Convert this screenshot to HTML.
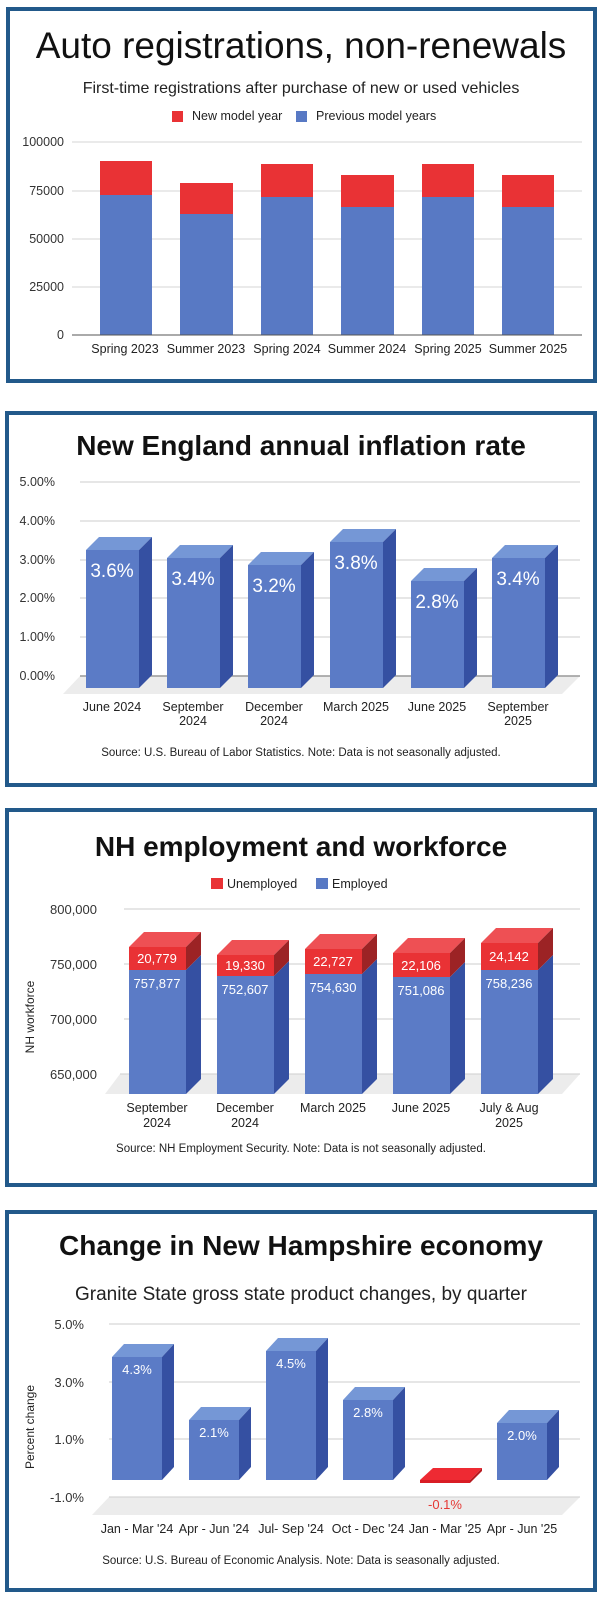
<!DOCTYPE html>
<html><head><meta charset="utf-8"><style>
html,body{margin:0;padding:0;background:#fff;}
svg{display:block;font-family:"Liberation Sans",Arial,sans-serif;}
</style></head><body>
<svg width="603" height="1599" viewBox="0 0 603 1599" xmlns="http://www.w3.org/2000/svg">
<rect width="603" height="1599" fill="#fff"/>
<g fill="none" stroke="#22598a" stroke-width="4">
<rect x="8" y="9" width="587" height="372"/>
<rect x="7" y="413" width="588" height="372"/>
<rect x="7" y="810" width="588" height="375"/>
<rect x="7" y="1212" width="588" height="378"/>
</g>

<!-- Panel 1 -->
<text x="301" y="58" font-size="37" text-anchor="middle" fill="#111">Auto registrations, non-renewals</text>
<text x="301" y="93" font-size="16" text-anchor="middle" fill="#222">First-time registrations after purchase of new or used vehicles</text>
<rect x="172" y="111" width="11" height="11" fill="#e93235"/>
<text x="192" y="120" font-size="12.5" fill="#222">New model year</text>
<rect x="296" y="111" width="11" height="11" fill="#5879c4"/>
<text x="316" y="120" font-size="12.5" fill="#222">Previous model years</text>
<g stroke="#d6d6d6" stroke-width="1">
<line x1="72" y1="142" x2="582" y2="142"/><line x1="72" y1="191" x2="582" y2="191"/>
<line x1="72" y1="239" x2="582" y2="239"/><line x1="72" y1="287" x2="582" y2="287"/>
</g>
<g font-size="12.5" fill="#333" text-anchor="end">
<text x="64" y="146">100000</text><text x="64" y="195">75000</text><text x="64" y="243">50000</text><text x="64" y="291">25000</text><text x="64" y="339">0</text>
</g>
<g fill="#e93235">
<rect x="100" y="161" width="52" height="34"/><rect x="180" y="183" width="53" height="31"/>
<rect x="261" y="164" width="52" height="33"/><rect x="341" y="175" width="53" height="32"/>
<rect x="422" y="164" width="52" height="33"/><rect x="502" y="175" width="52" height="32"/>
</g>
<g fill="#5879c4">
<rect x="100" y="195" width="52" height="140"/><rect x="180" y="214" width="53" height="121"/>
<rect x="261" y="197" width="52" height="138"/><rect x="341" y="207" width="53" height="128"/>
<rect x="422" y="197" width="52" height="138"/><rect x="502" y="207" width="52" height="128"/>
</g>
<line x1="72" y1="335" x2="582" y2="335" stroke="#555" stroke-width="1"/>
<g font-size="12.5" fill="#222" text-anchor="middle">
<text x="125" y="353">Spring 2023</text><text x="206" y="353">Summer 2023</text><text x="287" y="353">Spring 2024</text>
<text x="367" y="353">Summer 2024</text><text x="448" y="353">Spring 2025</text><text x="528" y="353">Summer 2025</text>
</g>

<!-- Panel 2 -->
<text x="301" y="455" font-size="28" font-weight="bold" text-anchor="middle" fill="#111">New England annual inflation rate</text>
<g stroke="#d6d6d6" stroke-width="1.2">
<line x1="80" y1="482" x2="580" y2="482"/><line x1="80" y1="521" x2="580" y2="521"/>
<line x1="80" y1="560" x2="580" y2="560"/><line x1="80" y1="598" x2="580" y2="598"/><line x1="80" y1="637" x2="580" y2="637"/>
</g>
<polygon points="80,676 580,676 562,694 63,694" fill="#ececec"/>
<line x1="80" y1="676" x2="580" y2="676" stroke="#999" stroke-width="1.5"/>
<g font-size="12.5" fill="#333" text-anchor="end">
<text x="55" y="486">5.00%</text><text x="55" y="525">4.00%</text><text x="55" y="564">3.00%</text>
<text x="55" y="602">2.00%</text><text x="55" y="641">1.00%</text><text x="55" y="680">0.00%</text>
</g>
<g>
<polygon points="86,550 99,537 152,537 139,550" fill="#7597d6"/><polygon points="139,550 152,537 152,675 139,688" fill="#3550a2"/><rect x="86" y="550" width="53" height="138" fill="#5b7bc6"/>
<polygon points="167,558 180,545 233,545 220,558" fill="#7597d6"/><polygon points="220,558 233,545 233,675 220,688" fill="#3550a2"/><rect x="167" y="558" width="53" height="130" fill="#5b7bc6"/>
<polygon points="248,565 261,552 314,552 301,565" fill="#7597d6"/><polygon points="301,565 314,552 314,675 301,688" fill="#3550a2"/><rect x="248" y="565" width="53" height="123" fill="#5b7bc6"/>
<polygon points="330,542 343,529 396,529 383,542" fill="#7597d6"/><polygon points="383,542 396,529 396,675 383,688" fill="#3550a2"/><rect x="330" y="542" width="53" height="146" fill="#5b7bc6"/>
<polygon points="411,581 424,568 477,568 464,581" fill="#7597d6"/><polygon points="464,581 477,568 477,675 464,688" fill="#3550a2"/><rect x="411" y="581" width="53" height="107" fill="#5b7bc6"/>
<polygon points="492,558 505,545 558,545 545,558" fill="#7597d6"/><polygon points="545,558 558,545 558,675 545,688" fill="#3550a2"/><rect x="492" y="558" width="53" height="130" fill="#5b7bc6"/>
</g>
<g font-size="19" fill="#fff" text-anchor="middle">
<text x="112" y="577">3.6%</text><text x="193" y="585">3.4%</text><text x="274" y="592">3.2%</text>
<text x="356" y="569">3.8%</text><text x="437" y="608">2.8%</text><text x="518" y="585">3.4%</text>
</g>
<g font-size="12.5" fill="#222" text-anchor="middle">
<text x="112" y="711">June 2024</text>
<text x="193" y="711">September</text><text x="193" y="725">2024</text>
<text x="274" y="711">December</text><text x="274" y="725">2024</text>
<text x="356" y="711">March 2025</text>
<text x="437" y="711">June 2025</text>
<text x="518" y="711">September</text><text x="518" y="725">2025</text>
<text x="301" y="756" font-size="11.5">Source: U.S. Bureau of Labor Statistics. Note: Data is not seasonally adjusted.</text>
</g>

<!-- Panel 3 -->
<text x="301" y="856" font-size="28" font-weight="bold" text-anchor="middle" fill="#111">NH employment and workforce</text>
<rect x="211" y="878" width="12" height="11" fill="#e93235"/>
<text x="227" y="888" font-size="12.5" fill="#222">Unemployed</text>
<rect x="316" y="878" width="12" height="11" fill="#5879c4"/>
<text x="332" y="888" font-size="12.5" fill="#222">Employed</text>
<g stroke="#d6d6d6" stroke-width="1.2">
<line x1="124" y1="909" x2="580" y2="909"/><line x1="124" y1="964" x2="580" y2="964"/><line x1="124" y1="1019" x2="580" y2="1019"/>
</g>
<polygon points="120,1074 580,1074 562,1094 105,1094" fill="#ececec"/>
<line x1="120" y1="1074" x2="580" y2="1074" stroke="#d6d6d6" stroke-width="1.2"/>
<g font-size="13" fill="#333" text-anchor="end">
<text x="97" y="914">800,000</text><text x="97" y="969">750,000</text><text x="97" y="1024">700,000</text><text x="97" y="1079">650,000</text>
</g>
<text transform="translate(34,1017) rotate(-90)" font-size="12" fill="#222" text-anchor="middle">NH workforce</text>
<g>
<rect x="129" y="970" width="57" height="124" fill="#5b7bc6"/><polygon points="186,970 201,955 201,1079 186,1094" fill="#3550a2"/>
<rect x="129" y="947" width="57" height="23" fill="#e93235"/><polygon points="129,947 144,932 201,932 186,947" fill="#ee5054"/><polygon points="186,947 201,932 201,955 186,970" fill="#9c2325"/>

<rect x="217" y="976" width="57" height="118" fill="#5b7bc6"/><polygon points="274,976 289,961 289,1079 274,1094" fill="#3550a2"/>
<rect x="217" y="955" width="57" height="21" fill="#e93235"/><polygon points="217,955 232,940 289,940 274,955" fill="#ee5054"/><polygon points="274,955 289,940 289,961 274,976" fill="#9c2325"/>

<rect x="305" y="974" width="57" height="120" fill="#5b7bc6"/><polygon points="362,974 377,959 377,1079 362,1094" fill="#3550a2"/>
<rect x="305" y="949" width="57" height="25" fill="#e93235"/><polygon points="305,949 320,934 377,934 362,949" fill="#ee5054"/><polygon points="362,949 377,934 377,959 362,974" fill="#9c2325"/>

<rect x="393" y="977" width="57" height="117" fill="#5b7bc6"/><polygon points="450,977 465,962 465,1079 450,1094" fill="#3550a2"/>
<rect x="393" y="953" width="57" height="24" fill="#e93235"/><polygon points="393,953 408,938 465,938 450,953" fill="#ee5054"/><polygon points="450,953 465,938 465,962 450,977" fill="#9c2325"/>

<rect x="481" y="970" width="57" height="124" fill="#5b7bc6"/><polygon points="538,970 553,955 553,1079 538,1094" fill="#3550a2"/>
<rect x="481" y="943" width="57" height="27" fill="#e93235"/><polygon points="481,943 496,928 553,928 538,943" fill="#ee5054"/><polygon points="538,943 553,928 553,955 538,970" fill="#9c2325"/>
</g>
<g font-size="13" fill="#fff" text-anchor="middle">
<text x="157" y="963">20,779</text><text x="157" y="988">757,877</text>
<text x="245" y="970">19,330</text><text x="245" y="994">752,607</text>
<text x="333" y="966">22,727</text><text x="333" y="992">754,630</text>
<text x="421" y="970">22,106</text><text x="421" y="995">751,086</text>
<text x="509" y="961">24,142</text><text x="509" y="988">758,236</text>
</g>
<g font-size="12.5" fill="#222" text-anchor="middle">
<text x="157" y="1112">September</text><text x="157" y="1127">2024</text>
<text x="245" y="1112">December</text><text x="245" y="1127">2024</text>
<text x="333" y="1112">March 2025</text>
<text x="421" y="1112">June 2025</text>
<text x="509" y="1112">July &amp; Aug</text><text x="509" y="1127">2025</text>
<text x="301" y="1152" font-size="11.5">Source: NH Employment Security. Note: Data is not seasonally adjusted.</text>
</g>

<!-- Panel 4 -->
<text x="301" y="1255" font-size="28" font-weight="bold" text-anchor="middle" fill="#111">Change in New Hampshire economy</text>
<text x="301" y="1300" font-size="19" text-anchor="middle" fill="#222">Granite State gross state product changes, by quarter</text>
<g stroke="#d6d6d6" stroke-width="1.2">
<line x1="109" y1="1324" x2="580" y2="1324"/><line x1="109" y1="1382" x2="580" y2="1382"/><line x1="109" y1="1439" x2="580" y2="1439"/>
</g>
<polygon points="109,1497 580,1497 562,1515 92,1515" fill="#ececec"/>
<line x1="109" y1="1497" x2="580" y2="1497" stroke="#d6d6d6" stroke-width="1.2"/>
<g font-size="13" fill="#333" text-anchor="end">
<text x="84" y="1329">5.0%</text><text x="84" y="1387">3.0%</text><text x="84" y="1444">1.0%</text><text x="84" y="1502">-1.0%</text>
</g>
<text transform="translate(34,1427) rotate(-90)" font-size="12" fill="#222" text-anchor="middle">Percent change</text>
<g>
<polygon points="112,1357 124,1344 174,1344 162,1357" fill="#7597d6"/><polygon points="162,1357 174,1344 174,1467 162,1480" fill="#3550a2"/><rect x="112" y="1357" width="50" height="123" fill="#5b7bc6"/>
<polygon points="189,1420 201,1407 251,1407 239,1420" fill="#7597d6"/><polygon points="239,1420 251,1407 251,1467 239,1480" fill="#3550a2"/><rect x="189" y="1420" width="50" height="60" fill="#5b7bc6"/>
<polygon points="266,1351 278,1338 328,1338 316,1351" fill="#7597d6"/><polygon points="316,1351 328,1338 328,1467 316,1480" fill="#3550a2"/><rect x="266" y="1351" width="50" height="129" fill="#5b7bc6"/>
<polygon points="343,1400 355,1387 405,1387 393,1400" fill="#7597d6"/><polygon points="393,1400 405,1387 405,1467 393,1480" fill="#3550a2"/><rect x="343" y="1400" width="50" height="80" fill="#5b7bc6"/>
<polygon points="420,1480 433,1468 482,1468 470,1480" fill="#ee2a33"/><polygon points="470,1480 482,1468 482,1471 470,1483" fill="#b81a20"/><rect x="420" y="1480" width="50" height="3" fill="#d91c24"/>
<polygon points="497,1423 509,1410 559,1410 547,1423" fill="#7597d6"/><polygon points="547,1423 559,1410 559,1467 547,1480" fill="#3550a2"/><rect x="497" y="1423" width="50" height="57" fill="#5b7bc6"/>
</g>
<g font-size="13" fill="#fff" text-anchor="middle">
<text x="137" y="1374">4.3%</text><text x="214" y="1437">2.1%</text><text x="291" y="1368">4.5%</text>
<text x="368" y="1417">2.8%</text><text x="522" y="1440">2.0%</text>
</g>
<text x="445" y="1509" font-size="13" fill="#e53935" text-anchor="middle">-0.1%</text>
<g font-size="12.5" fill="#222" text-anchor="middle">
<text x="137" y="1533">Jan - Mar '24</text><text x="214" y="1533">Apr - Jun '24</text><text x="291" y="1533">Jul- Sep '24</text>
<text x="368" y="1533">Oct - Dec '24</text><text x="445" y="1533">Jan - Mar '25</text><text x="522" y="1533">Apr - Jun '25</text>
<text x="301" y="1564" font-size="11.5">Source: U.S. Bureau of Economic Analysis. Note: Data is seasonally adjusted.</text>
</g>
</svg>
</body></html>
